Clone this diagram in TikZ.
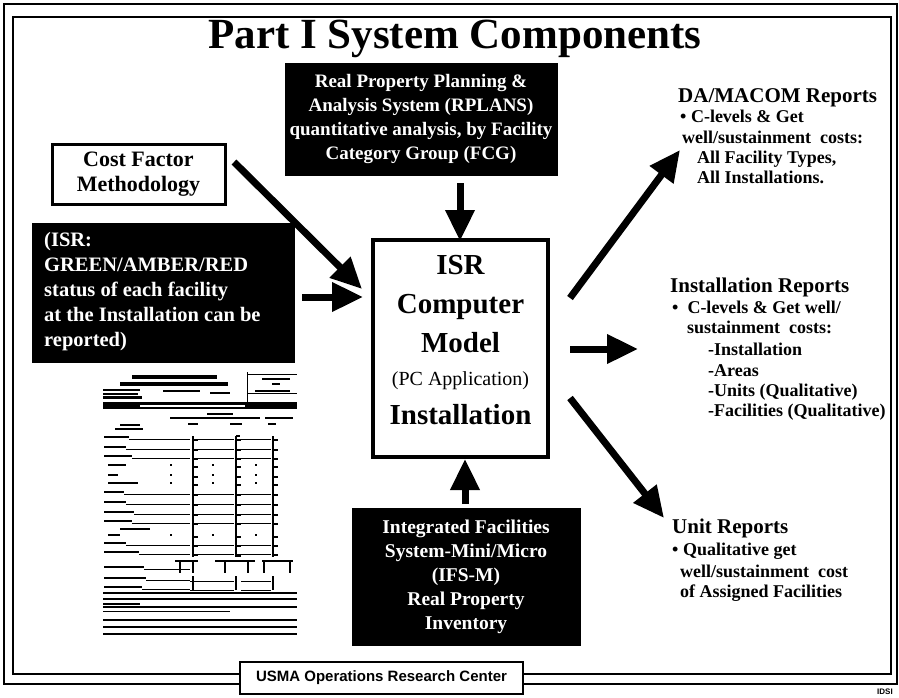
\documentclass[tikz,border=0pt]{standalone}
\usepackage{fontspec}
\setmainfont{Liberation Serif}
\setsansfont{Liberation Sans}
\usetikzlibrary{arrows.meta}

\tikzset{
  bigarrow/.style={line width=7pt,-{Triangle[length=31pt,width=28pt]}},
  darkbox/.style={fill=black,draw=black,text=white,inner sep=0pt,align=center,
    font=\bfseries\fontsize{19}{24}\selectfont},
  isrtext/.style={inner sep=0pt,anchor=base,font=\bfseries\fontsize{29}{32}\selectfont},
  rephead/.style={inner sep=0pt,anchor=base west,font=\bfseries\fontsize{21}{24}\selectfont},
  repline/.style={inner sep=0pt,anchor=base west,font=\bfseries\fontsize{18}{21}\selectfont},
  formbar/.style={line width=2.2pt},
  formline/.style={line width=0.7pt}
}

\begin{document}
\begin{tikzpicture}[x=1pt,y=-1pt]
\useasboundingbox (0,0) rectangle (899,698);
\fill[white] (0,0) rectangle (899,698);

% double page frame
\draw[line width=2pt] (4,4) rectangle (897,684);
\draw[line width=1.6pt] (13,17) rectangle (891,674);

% title breaking the inner frame
\node[fill=white,inner xsep=8pt,inner ysep=2pt,anchor=base,
      font=\bfseries\fontsize{43}{46}\selectfont] (title) at (455,49) {Part I System Components};

% input boxes
\node[darkbox,minimum width=272pt,minimum height=112pt] (rplans) at (421,119)
  {Real Property Planning \&\\Analysis System (RPLANS)\\quantitative analysis, by Facility\\Category Group (FCG)};

\node[draw,line width=3pt,fill=white,minimum width=173pt,minimum height=60pt,inner sep=0pt,align=center,
      font=\bfseries\fontsize{22}{25}\selectfont] (cost) at (138.5,174) {Cost Factor\\Methodology};

\node[fill=black,text=white,minimum width=263pt,minimum height=140pt,inner sep=0pt] (status) at (163.5,293) {};
\node[text=white,anchor=north west,inner sep=0pt,align=left,
      font=\bfseries\fontsize{20.5}{25}\selectfont] (statustext) at (44,232)
  {(ISR:\\GREEN/AMBER/RED\\status of each facility\\at the Installation can be\\reported)};

\node[darkbox,minimum width=228pt,minimum height=137pt,font=\bfseries\fontsize{19.5}{24}\selectfont] (ifs) at (466,576.5)
  {Integrated Facilities\\System-Mini/Micro\\(IFS-M)\\Real Property\\Inventory};

% central model box
\node[draw,line width=4.5pt,minimum width=175pt,minimum height=217pt,inner sep=0pt] (isr) at (460.5,348.5) {};
\node[isrtext] (isr1) at (460.5,274) {ISR};
\node[isrtext] (isr2) at (460.5,313) {Computer};
\node[isrtext] (isr3) at (460.5,352) {Model};
\node[inner sep=0pt,anchor=base,font=\fontsize{20}{22}\selectfont] (isr4) at (460.5,385) {(PC Application)};
\node[isrtext] (isr5) at (460.5,424) {Installation};

% inspection worksheet sketch
\begin{scope}
  \fill (132,375) rectangle (217,378.5);
  \fill (120,382) rectangle (228,385.5);
  \fill (103,388.5) rectangle (140,390.5);
  \fill (103,392.5) rectangle (138,394.5);
  \fill (103,396) rectangle (142,398.5);
  \fill (163,390) rectangle (200,392);
  \fill (210,392) rectangle (230,394);
  \draw[formline] (247,372) -- (247,402);
  \draw[formline] (247,374) -- (297,374);
  \draw[formline] (247,393) -- (297,393);
  \fill (262,378) rectangle (290,380);
  \fill (272,383) rectangle (280,385);
  \fill (255,390) rectangle (290,392);
  \fill (103,402) rectangle (297,409);
  \fill[white] (140,404.5) rectangle (245,406.5);
  \fill (207,413) rectangle (233,415);
  \fill (170,417) rectangle (260,419);
  \fill (265,417) rectangle (293,419);
  \fill (120,424) rectangle (140,426);
  \fill (115,428) rectangle (143,430);
  \fill (188,423) rectangle (198,425);
  \fill (230,423) rectangle (242,425);
  \fill (268,423) rectangle (276,425);
  % main items with leader lines
  \foreach \y/\w in {438/25,448/22,457/28,493/20,503/22,513/30,522/28,544/22,553/35}{
    \draw[formbar] (104,\y-1) -- (104+\w,\y-1);
    \draw[formline] (104+\w,\y+1) -- (190,\y+1);
    \draw[formline] (197,\y+1) -- (234,\y+1);
    \draw[formline] (241,\y+1) -- (271,\y+1);
  }
  % sub items
  \foreach \y/\w in {465/18,475/10,483/30,535/12}{
    \draw[formbar] (108,\y) -- (108+\w,\y);
    \fill (170,\y-1) rectangle (171.5,\y+1);
    \fill (212,\y-1) rectangle (213.5,\y+1);
    \fill (255,\y-1) rectangle (256.5,\y+1);
  }
  \fill (120,528) rectangle (150,530);
  % rating brackets
  \foreach \x in {193,236,273}{
    \draw[line width=1.4pt] (\x,436) -- (\x,557);
    \foreach \y in {440,450,459,467,477,485,495,505,515,524,537,546,555}{
      \draw[line width=1.4pt] (\x,\y) -- (\x+5,\y);
    }
  }
  \draw[line width=1.4pt] (236,436) -- (240,436) (236,556) -- (241,556);
  % totals block
  \draw[line width=1.4pt] (175,561) -- (198,561) (215,561) -- (255,561) (262,561) -- (293,561);
  \draw[line width=1.4pt] (180,561) -- (180,573) (193,561) -- (193,573) (225,561) -- (225,573)
                          (248,561) -- (248,573) (264,561) -- (264,573) (290,561) -- (290,573);
  \foreach \y/\w in {568/40,579/42,588/38}{
    \draw[formbar] (104,\y-1) -- (104+\w,\y-1);
    \draw[formline] (104+\w,\y+1) -- (190,\y+1);
  }
  \draw[formline] (190,581) -- (234,581) (241,581) -- (271,581);
  \draw[formline] (190,590) -- (234,590) (241,590) -- (271,590);
  \draw[line width=1.4pt] (193,576) -- (193,590) (236,576) -- (236,590) (273,576) -- (273,590);
  \draw[line width=1.5pt] (103,593) -- (297,593);
  \draw[line width=1.5pt] (103,599) -- (297,599);
  \fill (103,603) rectangle (140,605);
  \draw[line width=1.5pt] (103,607) -- (297,607);
  \draw[formline] (103,611) -- (230,611);
  \draw[line width=1.5pt] (103,620) -- (297,620);
  \draw[line width=1.5pt] (103,627) -- (297,627);
  \draw[line width=1.8pt] (103,634) -- (297,634);
\end{scope}

% output reports
\node[rephead] (da0) at (678,103) {DA/MACOM Reports};
\node[repline] (da1) at (680,123) {\textbullet\ C-levels \& Get};
\node[repline] (da2) at (682,143) {well/sustainment\ \ costs:};
\node[repline] (da3) at (697,163) {All Facility Types,};
\node[repline] (da4) at (697,183) {All Installations.};

\node[rephead] (in0) at (670,292) {Installation Reports};
\node[repline] (in1) at (672,313) {\textbullet\ \ C-levels \& Get well/};
\node[repline] (in2) at (687,333) {sustainment\ \ costs:};
\node[repline] (in3) at (708,355) {-Installation};
\node[repline] (in4) at (708,376) {-Areas};
\node[repline] (in5) at (708,396) {-Units (Qualitative)};
\node[repline] (in6) at (708,416) {-Facilities (Qualitative)};

\node[rephead] (un0) at (672,533) {Unit Reports};
\node[repline] (un1) at (672,555) {\textbullet\ Qualitative get};
\node[repline] (un2) at (680,577) {well/sustainment\ \ cost};
\node[repline] (un3) at (680,597) {of Assigned Facilities};

% arrow end points
\coordinate (topA) at (460,183);
\coordinate (topB) at (460,241);
\coordinate (botA) at (465,504);
\coordinate (botB) at (465,459);
\coordinate (costA) at (234,162);
\coordinate (costB) at (362,289);
\coordinate (statA) at (302,297);
\coordinate (statB) at (363,297);
\coordinate (daA) at (570,298);
\coordinate (daB) at (680,150);
\coordinate (inA) at (570,349);
\coordinate (inB) at (638,349);
\coordinate (unA) at (570,398);
\coordinate (unB) at (664,518);

\draw[bigarrow] (topA) -- (topB);
\draw[bigarrow] (botA) -- (botB);
\draw[bigarrow] (costA) -- (costB);
\draw[bigarrow] (statA) -- (statB);
\draw[bigarrow] (daA) -- (daB);
\draw[bigarrow] (inA) -- (inB);
\draw[bigarrow] (unA) -- (unB);

% footer label over the frame
\node[draw,line width=2pt,fill=white,minimum width=283pt,minimum height=32pt,inner sep=0pt,
      font=\sffamily\bfseries\fontsize{15}{17}\selectfont] (footer) at (381.5,678) {USMA Operations Research Center};
\node[anchor=base west,inner sep=0pt,font=\sffamily\bfseries\fontsize{8}{9}\selectfont] (tag) at (877,694) {IDSI};
\end{tikzpicture}
\end{document}
